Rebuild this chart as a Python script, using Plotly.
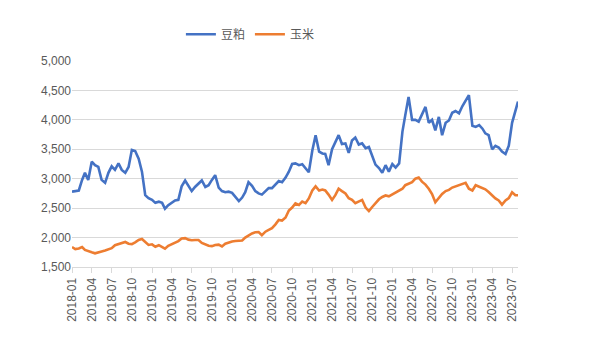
import plotly.graph_objects as go

# semi-monthly sample dates (1st and 16th of each month), last point 2023-07-28
dates = []
for y in range(2018, 2024):
    for mth in range(1, 13):
        if y == 2023 and mth > 7:
            break
        dates.append(f"{y}-{mth:02d}-01")
        dates.append(f"{y}-{mth:02d}-16")
dates.append("2023-07-28")

soymeal = [
    2780, 2790, 2800, 2980, 3100, 2980, 3290, 3230, 3200, 2980,
    2930, 3100, 3210, 3150, 3260, 3150, 3100, 3200, 3490, 3470,
    3340, 3120, 2720, 2670, 2640, 2590, 2610, 2590, 2490, 2550,
    2590, 2630, 2640, 2870, 2970, 2890, 2790, 2860, 2920, 2970,
    2860, 2890, 2980, 3060, 2850, 2790, 2770, 2780, 2760, 2690,
    2620, 2680, 2770, 2940, 2880, 2790, 2750, 2730, 2790, 2840,
    2840, 2900, 2960, 2940, 3020, 3120, 3250, 3260, 3230, 3245,
    3180, 3110, 3480, 3740, 3460, 3430, 3420, 3230, 3500, 3610,
    3740, 3590, 3600, 3440, 3650, 3700, 3580, 3600, 3520, 3540,
    3400, 3240, 3180, 3100, 3230, 3120, 3250, 3190, 3260, 3800,
    4080, 4390, 4000, 4000, 3970, 4100, 4220, 3950, 4000, 3820,
    4050, 3740, 3950, 3990, 4120, 4150, 4110, 4230, 4320, 4420,
    3900, 3880, 3910, 3850, 3770, 3740, 3500, 3560, 3530, 3460,
    3420, 3560, 3950, 4150, 4310,
]

corn = [
    1840, 1805, 1815, 1840, 1790, 1765, 1750, 1733, 1755, 1765,
    1780, 1800, 1820, 1870, 1890, 1905, 1925, 1895, 1890, 1920,
    1960, 1975, 1930, 1875, 1885, 1845, 1870, 1830, 1810, 1860,
    1885, 1910, 1940, 1985, 1990, 1965, 1955, 1960, 1960, 1910,
    1885, 1860, 1855, 1875, 1880, 1850, 1895, 1915, 1935, 1942,
    1945, 1950, 2000, 2040, 2070, 2090, 2095, 2040, 2100, 2130,
    2160, 2220, 2300, 2290, 2340, 2460, 2510, 2580, 2555, 2610,
    2585, 2665, 2800, 2870, 2800, 2815, 2800, 2730, 2640, 2720,
    2830, 2790, 2750, 2670, 2640, 2585, 2610, 2640, 2510, 2450,
    2520, 2590, 2650, 2690, 2715, 2700, 2730, 2765, 2790, 2830,
    2890, 2920, 2940, 3000, 3020, 2950, 2900, 2830, 2740, 2600,
    2680, 2740, 2790, 2810, 2850, 2870, 2880, 2900, 2930, 2830,
    2800, 2890, 2860, 2840, 2820, 2775, 2715, 2665, 2630, 2560,
    2630, 2670, 2770, 2720, 2720,
]

series_names = ["豆粕", "玉米"]
colors = ["#4472C4", "#ED7D31"]

fig = go.Figure()
for name, vals, col in zip(series_names, [soymeal, corn], colors):
    fig.add_trace(go.Scatter(x=dates[:len(vals)], y=vals, mode="lines", name=name,
                             line=dict(color=col, width=2.6)))

gray = "#595959"
fig.update_layout(
    width=598, height=340,
    margin=dict(l=72, r=80, t=61, b=73),
    paper_bgcolor="white", plot_bgcolor="white",
    font=dict(family="Liberation Sans, Noto Sans CJK SC", size=12, color=gray),
    showlegend=True,
    legend=dict(orientation="h", x=0.4, xanchor="center", y=1.13, yanchor="middle",
                font=dict(family="Noto Sans CJK SC", size=12, color=gray),
                itemwidth=30, tracegroupgap=0),
    xaxis=dict(type="date", range=["2018-01-01", "2023-07-28"], tickformat="%Y-%m",
               dtick="M3", tick0="2018-01-01", tickangle=-90, ticks="outside",
               ticklen=5, tickcolor="#d9d9d9", showline=True, linecolor="#d9d9d9",
               showgrid=False, tickfont=dict(size=12, color=gray)),
    yaxis=dict(range=[1500, 5000], dtick=500, tickformat=",", showgrid=True,
               gridcolor="#d9d9d9", zeroline=False, showline=False,
               tickfont=dict(size=12, color=gray)),
)

fig.write_html("out.html")
